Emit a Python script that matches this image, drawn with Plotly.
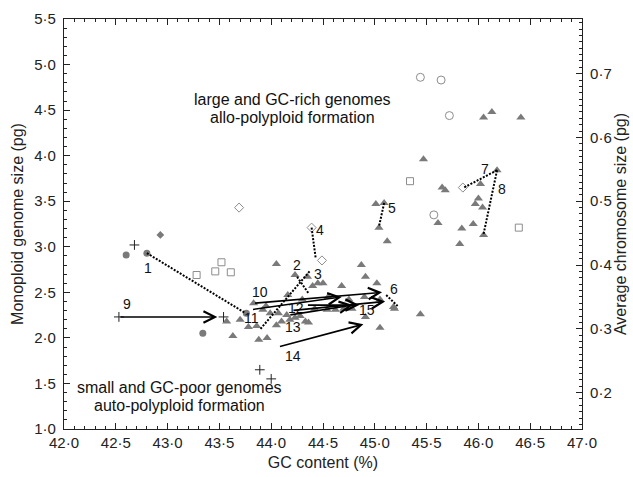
import plotly.graph_objects as go

# ---------------- data ----------------
tri_x = [46.05, 46.13, 46.41, 45.47, 46.18, 45.65, 45.68, 46.02, 46.00, 45.97, 46.04, 45.95, 45.84,
         46.05, 45.82, 45.61, 45.01, 45.09, 45.04, 45.12,
         44.87, 44.91, 45.02, 45.18, 45.44, 45.05, 44.91, 45.19,
         44.05, 44.23, 44.35, 44.68, 44.50, 44.45, 44.40, 44.36,
         44.54, 44.62, 44.70, 44.78, 44.42,
         43.57, 43.63, 43.78, 43.86, 43.88, 43.96, 43.83, 43.92, 43.99, 44.07, 44.15, 44.10,
         44.05, 44.18, 44.23, 44.28, 44.33,
         44.55, 44.75, 44.90, 45.05, 44.30, 44.16, 43.95, 43.70]
tri_y = [4.42, 4.48, 4.42, 3.96, 3.84, 3.65, 3.62, 3.69, 3.53, 3.47, 3.43, 3.25, 3.20,
         3.13, 3.03, 3.26, 3.47, 3.48, 3.21, 3.06,
         2.80, 2.67, 2.60, 2.34, 2.26, 2.11, 2.23, 2.32,
         2.81, 2.69, 2.67, 2.57, 2.60, 2.60, 2.57, 2.17,
         2.31, 2.31, 2.32, 2.32, 2.32,
         2.18, 2.02, 2.12, 2.13, 1.98, 2.00, 2.38, 2.31, 2.27, 2.27, 2.25, 2.18,
         2.14, 2.20, 2.22, 2.24, 2.18,
         2.45, 2.42, 2.45, 2.42, 2.42, 2.47, 2.35, 2.20]

fcirc_x = [42.60, 42.80, 43.34, 43.76]
fcirc_y = [2.91, 2.93, 2.05, 2.27]

plus_x = [42.68, 42.53, 43.54, 43.89, 44.00]
plus_y = [3.02, 2.23, 2.23, 1.65, 1.55]

fdiam_x = [42.93]
fdiam_y = [3.13]

odiam_x = [43.69, 44.39, 44.49, 45.85]
odiam_y = [3.43, 3.21, 2.85, 3.65]

osq_x = [43.28, 43.46, 43.52, 43.61, 45.34, 46.39]
osq_y = [2.69, 2.73, 2.83, 2.72, 3.72, 3.21]

ocirc_x = [45.44, 45.64, 45.72, 45.57]
ocirc_y = [4.86, 4.83, 4.44, 3.35]

# dotted arrows: label, start, end, label position
dot_labels = ["1", "2", "3", "4", "5", "6", "7", "8"]
dot_x0 = [42.80, 44.25, 44.37, 44.39, 45.09, 45.11, 46.18, 46.18]
dot_y0 = [2.93, 2.67, 2.73, 3.21, 3.48, 2.47, 3.84, 3.84]
dot_x1 = [43.74, 44.36, 43.89, 44.43, 45.04, 45.22, 45.86, 46.05]
dot_y1 = [2.28, 2.49, 2.09, 2.87, 3.22, 2.35, 3.65, 3.14]
dot_lx = [42.81, 44.25, 44.45, 44.47, 45.17, 45.19, 46.06, 46.23]
dot_ly = [2.77, 2.80, 2.70, 3.18, 3.43, 2.54, 3.85, 3.63]

# solid arrows
sol_labels = ["9", "10", "11", "12", "13", "14", "15"]
sol_x0 = [42.53, 43.83, 43.81, 44.34, 44.17, 44.07, 44.20]
sol_y0 = [2.23, 2.38, 2.31, 2.36, 2.25, 1.90, 2.30]
sol_x1 = [43.48, 45.07, 44.68, 44.85, 44.79, 44.89, 45.10]
sol_y1 = [2.23, 2.50, 2.45, 2.36, 2.36, 2.15, 2.40]
sol_lx = [42.61, 43.89, 43.81, 44.24, 44.21, 44.21, 44.92]
sol_ly = [2.37, 2.50, 2.22, 2.33, 2.12, 1.80, 2.31]

# region notes (one entry per text line)
note_text = ["large and GC-rich genomes", "allo-polyploid formation",
             "small and GC-poor genomes", "auto-polyploid formation"]
note_x = [44.21, 44.21, 43.11, 43.11]
note_y = [4.62, 4.42, 1.46, 1.26]

x_ticks = [42.0, 42.5, 43.0, 43.5, 44.0, 44.5, 45.0, 45.5, 46.0, 46.5, 47.0]
y_ticks = [1.0, 1.5, 2.0, 2.5, 3.0, 3.5, 4.0, 4.5, 5.0, 5.5]
y2_ticks = [0.2, 0.3, 0.4, 0.5, 0.6, 0.7]
chrom_number = 7

def dot(v, n=1):
    return f"{v:.{n}f}".replace(".", "·")

# ---------------- figure ----------------
FONT = "Liberation Sans, Arial, sans-serif"
fig = go.Figure()
gray = "#7a7a7a"
lgray = "#8c8c8c"

fig.add_trace(go.Scatter(x=tri_x, y=tri_y, mode="markers",
                         marker=dict(symbol="triangle-up", size=8, color=gray, line=dict(width=0))))
fig.add_trace(go.Scatter(x=fcirc_x, y=fcirc_y, mode="markers",
                         marker=dict(symbol="circle", size=7, color=gray, line=dict(width=0))))
fig.add_trace(go.Scatter(x=plus_x, y=plus_y, mode="markers",
                         marker=dict(symbol="cross-thin", size=7, line=dict(width=1, color="#222"))))
fig.add_trace(go.Scatter(x=fdiam_x, y=fdiam_y, mode="markers",
                         marker=dict(symbol="diamond", size=6, color=gray, line=dict(width=0))))
fig.add_trace(go.Scatter(x=odiam_x, y=odiam_y, mode="markers",
                         marker=dict(symbol="diamond-open", size=7, color=lgray, line=dict(width=1))))
fig.add_trace(go.Scatter(x=osq_x, y=osq_y, mode="markers",
                         marker=dict(symbol="square-open", size=7, color=lgray, line=dict(width=1))))
fig.add_trace(go.Scatter(x=ocirc_x, y=ocirc_y, mode="markers",
                         marker=dict(symbol="circle-open", size=8, color=lgray, line=dict(width=1))))

ann = []
LBL = dict(size=14, color="#111", family=FONT)
# dotted arrows
for i in range(len(dot_labels)):
    fig.add_trace(go.Scatter(x=[dot_x0[i], dot_x1[i]], y=[dot_y0[i], dot_y1[i]], mode="lines",
                             line=dict(color="#000", width=2, dash="2px,1.5px")))
    ax = dot_x1[i] - (dot_x1[i] - dot_x0[i]) * 0.04
    ay = dot_y1[i] - (dot_y1[i] - dot_y0[i]) * 0.04
    ann.append(dict(x=dot_x1[i], y=dot_y1[i], ax=ax, ay=ay, xref="x", yref="y",
                    axref="x", ayref="y", showarrow=True, arrowhead=5, arrowsize=1.5,
                    arrowwidth=1.4, arrowcolor="#000", text=""))
    ann.append(dict(x=dot_lx[i], y=dot_ly[i], text=dot_labels[i], showarrow=False, font=LBL))
# solid arrows
for i in range(len(sol_labels)):
    ann.append(dict(x=sol_x1[i], y=sol_y1[i], ax=sol_x0[i], ay=sol_y0[i], xref="x", yref="y",
                    axref="x", ayref="y", showarrow=True, arrowhead=5, arrowsize=1.4,
                    arrowwidth=1.6, arrowcolor="#000", text=""))
    ann.append(dict(x=sol_lx[i], y=sol_ly[i], text=sol_labels[i], showarrow=False, font=LBL))

BIG = dict(size=16, color="#111", family=FONT)
for t, nx, ny in zip(note_text, note_x, note_y):
    ann.append(dict(x=nx, y=ny, text=t, showarrow=False, font=BIG))

# invisible trace for secondary axis
fig.add_trace(go.Scatter(x=[42.0], y=[y_ticks[0] / chrom_number], yaxis="y2", mode="markers",
                         marker=dict(opacity=0), hoverinfo="skip"))

tickfont = dict(size=15, color="#222", family=FONT)
titlefont = dict(size=16, color="#222", family=FONT)
fig.update_layout(
    width=633, height=477,
    margin=dict(l=64, r=51, t=19, b=48, autoexpand=False),
    paper_bgcolor="white", plot_bgcolor="white",
    showlegend=False,
    annotations=ann,
    xaxis=dict(range=[42.0, 47.0], tickvals=x_ticks, ticktext=[dot(v) for v in x_ticks],
               ticks="inside", ticklen=6, tickwidth=1, tickcolor="#222",
               minor=dict(dtick=0.1, ticks="inside", ticklen=3, tickcolor="#222"),
               showline=True, linecolor="#222", linewidth=1.2, mirror="ticks",
               showgrid=False, zeroline=False, tickfont=tickfont,
               title=dict(text="GC content (%)", font=titlefont, standoff=6)),
    yaxis=dict(range=[1.0, 5.5], tickvals=y_ticks, ticktext=[dot(v) for v in y_ticks],
               ticks="inside", ticklen=6, tickwidth=1, tickcolor="#222",
               minor=dict(dtick=0.1, ticks="inside", ticklen=3, tickcolor="#222"),
               showline=True, linecolor="#222", linewidth=1.2,
               showgrid=False, zeroline=False, tickfont=tickfont, ticklabelstandoff=4,
               title=dict(text="Monoploid genome size (pg)", font=titlefont, standoff=6)),
    yaxis2=dict(range=[1.0 / chrom_number, 5.5 / chrom_number], overlaying="y", side="right",
                tickvals=y2_ticks, ticktext=[dot(v) for v in y2_ticks],
                ticks="inside", ticklen=6, tickwidth=1, tickcolor="#222",
                minor=dict(dtick=0.01, ticks="inside", ticklen=3, tickcolor="#222"),
                showline=True, linecolor="#222", linewidth=1.2,
                showgrid=False, zeroline=False, tickfont=tickfont, ticklabelstandoff=4,
                title=dict(text="Average chromosome size (pg)", font=titlefont, standoff=4)),
)

fig.write_html("out.html", config={"displayModeBar": False},
               post_script="document.body.style.margin='0';")
